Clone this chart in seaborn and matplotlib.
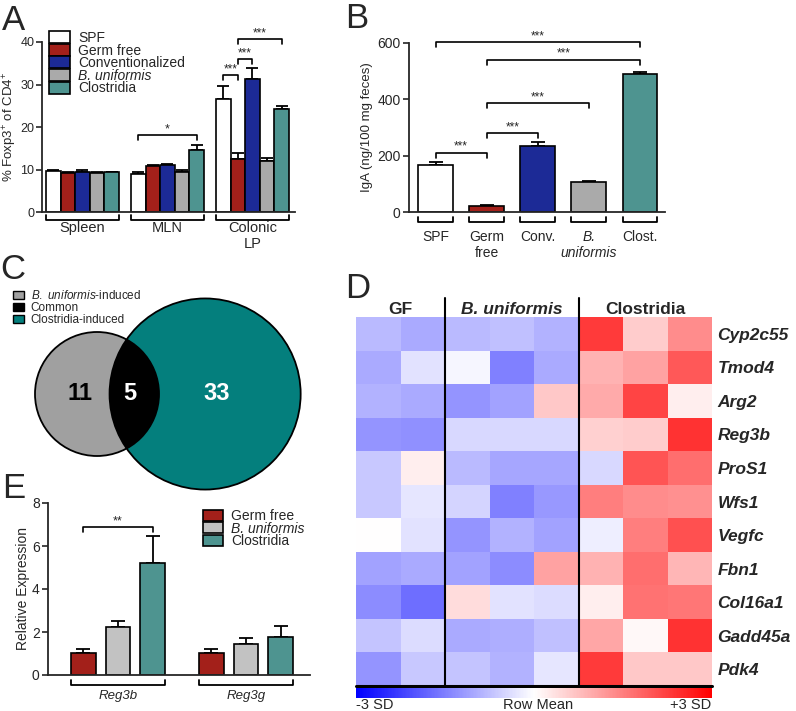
import matplotlib.pyplot as plt
import matplotlib.patches as mpatches
import numpy as np
import pandas as pd
import seaborn as sns

# ---- panel A: % Foxp3+ of CD4+ (mean and sem per tissue) ----
tissues = ["Spleen", "MLN", "Colonic\nLP"]
groups_a = ["SPF", "Germ free", "Conventionalized", "B. uniformis", "Clostridia"]
foxp3_spf = [9.7, 9.0, 26.7]
foxp3_gf = [9.1, 10.8, 12.4]
foxp3_conv = [9.5, 11.0, 31.2]
foxp3_bu = [9.1, 9.5, 12.1]
foxp3_clos = [9.3, 14.5, 24.2]
foxp3_sem_spf = [0.3, 0.3, 3.0]
foxp3_sem_gf = [0.2, 0.3, 1.6]
foxp3_sem_conv = [0.4, 0.3, 2.8]
foxp3_sem_bu = [0.3, 0.3, 0.6]
foxp3_sem_clos = [0.2, 1.2, 0.8]

# ---- panel B: fecal IgA ----
iga_groups = ["SPF", "Germ\nfree", "Conv.", "B.\nuniformis", "Clost."]
iga_mean = [168, 22, 233, 105, 490]
iga_sem = [8, 4, 17, 4, 6]

# ---- panel C: induced genes ----
venn_labels = ["$\\it{B.\\ uniformis}$-induced", "Common", "Clostridia-induced"]
venn_counts = [11, 5, 33]  # B. uniformis only, common, Clostridia only

# ---- panel D: row z-scores ----
genes = ["Cyp2c55", "Tmod4", "Arg2", "Reg3b", "ProS1", "Wfs1",
         "Vegfc", "Fbn1", "Col16a1", "Gadd45a", "Pdk4"]
samples = ["GF1", "GF2", "Bu1", "Bu2", "Bu3", "Cl1", "Cl2", "Cl3"]
row_z = [
    [-0.8, -1.0, -0.8, -0.75, -0.9, 2.3, 0.6, 1.35],
    [-1.0, -0.35, -0.1, -1.5, -1.0, 0.9, 1.1, 1.95],
    [-0.9, -1.0, -1.25, -1.1, 0.65, 1.0, 2.2, 0.2],
    [-1.25, -1.3, -0.45, -0.45, -0.45, 0.55, 0.6, 2.4],
    [-0.65, 0.2, -0.8, -1.05, -1.05, -0.45, 2.0, 1.7],
    [-0.65, -0.3, -0.5, -1.5, -1.2, 1.5, 1.35, 1.3],
    [0.0, -0.35, -1.25, -0.9, -1.1, -0.2, 1.5, 2.05],
    [-1.1, -1.0, -1.1, -1.35, 1.1, 0.9, 1.7, 0.85],
    [-1.35, -1.7, 0.4, -0.35, -0.4, 0.2, 1.65, 1.6],
    [-0.7, -0.4, -1.0, -0.95, -0.75, 1.05, 0.08, 2.4],
    [-1.25, -0.65, -0.7, -0.9, -0.3, 2.3, 0.65, 0.65],
]
heat_groups = ["GF", "B. uniformis", "Clostridia"]

# ---- panel E: relative expression ----
e_genes = ["Reg3b", "Reg3g"]
e_groups = ["Germ free", "B. uniformis", "Clostridia"]
expr_gf = [1.02, 1.02]
expr_bu = [2.22, 1.45]
expr_clos = [5.2, 1.78]
expr_sem_gf = [0.18, 0.17]
expr_sem_bu = [0.3, 0.27]
expr_sem_clos = [1.25, 0.52]

RED = "#A3201A"
BLUE = "#1C2A96"
GREY = "#AAAAAA"
TEAL = "#4E9490"
colors_a = ["white", RED, BLUE, GREY, TEAL]
colors_e = [RED, "#C2C2C2", TEAL]

sns.set_style("ticks")
plt.rcParams["font.family"] = ["Liberation Sans", "DejaVu Sans"]
plt.rcParams["mathtext.fontset"] = "custom"
plt.rcParams["mathtext.rm"] = "Liberation Sans"
plt.rcParams["mathtext.it"] = "Liberation Sans:italic"
plt.rcParams["mathtext.default"] = "regular"
plt.rcParams["axes.linewidth"] = 1.3

W, H = 796, 711
fig = plt.figure(figsize=(W / 100, H / 100), dpi=100)


def px_axes(left, top, right, bottom):
    return fig.add_axes([left / W, 1 - bottom / H, (right - left) / W, (bottom - top) / H])


def style_axes(ax, fs=10):
    sns.despine(ax=ax)
    ax.tick_params(axis="y", direction="out", length=4, width=1.2, labelsize=fs, pad=2)
    ax.set_xlabel("")


def bar_centers(ax):
    conts = [c for c in ax.containers]
    return [[b.get_x() + b.get_width() / 2 for b in c] for c in conts], conts


def add_err(ax, conts, sems, cap):
    for c, s in zip(conts, sems):
        xs = [b.get_x() + b.get_width() / 2 for b in c]
        ys = [b.get_height() for b in c]
        ax.errorbar(xs, ys, yerr=[np.zeros(len(s)), s], fmt="none", ecolor="black",
                    elinewidth=1.3, capsize=cap, capthick=1.3, zorder=1)


def sig(ax, x1, x2, y, drop, label, fs=9):
    ax.plot([x1, x1, x2, x2], [y - drop, y, y, y - drop], color="black", lw=1.2, clip_on=False)
    ax.text((x1 + x2) / 2, y, label, ha="center", va="bottom", fontsize=fs)


def under_bracket(ax, x1, x2, drop_px, tick_px=5):
    h = ax.get_position().height * H
    tr = ax.get_xaxis_transform()
    y0 = -drop_px / h
    y1 = -(drop_px - tick_px) / h
    ax.plot([x1, x1, x2, x2], [y1, y0, y0, y1], transform=tr, color="black",
            lw=1.3, clip_on=False)


def letter(x, y, s):
    fig.text(x / W, 1 - y / H, s, fontsize=25, ha="left", va="baseline")


# ================= A =================
ax_a = px_axes(42, 42, 295, 212)
df_a = pd.DataFrame({
    "tissue": tissues * 5,
    "group": np.repeat(groups_a, 3),
    "value": foxp3_spf + foxp3_gf + foxp3_conv + foxp3_bu + foxp3_clos,
})
sns.barplot(data=df_a, x="tissue", y="value", hue="group", palette=colors_a, width=0.86,
            saturation=1, edgecolor="black", linewidth=1.2, errorbar=None, legend=False,
            ax=ax_a, zorder=2)
cen_a, conts_a = bar_centers(ax_a)
add_err(ax_a, conts_a, [foxp3_sem_spf, foxp3_sem_gf, foxp3_sem_conv, foxp3_sem_bu,
                        foxp3_sem_clos], 4)
ax_a.set_ylim(0, 40)
ax_a.set_xlim(-0.476, 2.5)
ax_a.set_yticks([0, 10, 20, 30, 40])
style_axes(ax_a, fs=9)
ax_a.tick_params(axis="y", pad=1.5)
ax_a.set_ylabel("% Foxp3$^{+}$ of CD4$^{+}$", fontsize=9.5)
ax_a.yaxis.set_label_coords(-0.091, 0.5)
ax_a.tick_params(axis="x", length=0, pad=6.5, labelsize=10.5)
for t in range(3):
    under_bracket(ax_a, cen_a[0][t] - 0.086, cen_a[4][t] + 0.086, 8)
# significance brackets
sig(ax_a, cen_a[0][1], cen_a[4][1], 18.1, 1.2, "*")
sig(ax_a, cen_a[0][2], cen_a[1][2], 32.2, 1.2, "***", 8.5)
sig(ax_a, cen_a[1][2], cen_a[2][2], 36.0, 1.2, "***", 8.5)
sig(ax_a, cen_a[1][2], cen_a[4][2], 40.7, 1.2, "***", 8.5)
hand_a = [mpatches.Patch(facecolor=c, edgecolor="black", linewidth=1.2, label=g)
          for c, g in zip(colors_a, groups_a)]
leg_a = fig.legend(handles=hand_a, loc="upper left", bbox_to_anchor=(49 / W, 1 - 31 / H),
                   frameon=False, fontsize=10, handlelength=1.5, handleheight=0.95,
                   labelspacing=-0.1, handletextpad=0.6, borderpad=0, borderaxespad=0)
leg_a.get_texts()[3].set_fontstyle("italic")

# ================= B =================
ax_b = px_axes(409, 43, 665, 212)
sns.barplot(x=iga_groups, y=iga_mean, hue=iga_groups, palette=colors_a, width=0.68,
            saturation=1, edgecolor="black", linewidth=1.2, legend=False, ax=ax_b, zorder=2)
cen_b = [b.get_x() + b.get_width() / 2 for c in ax_b.containers for b in c]
bars_b = [b for c in ax_b.containers for b in c]
ax_b.errorbar(cen_b, [b.get_height() for b in bars_b], yerr=[np.zeros(5), iga_sem],
              fmt="none", ecolor="black", elinewidth=1.3, capsize=5, capthick=1.3, zorder=1)
ax_b.set_ylim(0, 600)
ax_b.set_xlim(-0.52, 4.49)
ax_b.set_yticks([0, 200, 400, 600])
style_axes(ax_b)
ax_b.set_ylabel("IgA (ng/100 mg feces)", fontsize=9.5)
ax_b.yaxis.set_label_coords(-0.14, 0.5)
ax_b.tick_params(axis="x", length=0, pad=13, labelsize=10)
ax_b.get_xticklabels()[3].set_fontstyle("italic")
for b in bars_b:
    under_bracket(ax_b, b.get_x(), b.get_x() + b.get_width(), 10)
sig(ax_b, cen_b[0], cen_b[1], 210, 18, "***", 8.5)
sig(ax_b, cen_b[1], cen_b[2], 280, 18, "***", 8.5)
sig(ax_b, cen_b[1], cen_b[3], 387, 18, "***", 8.5)
sig(ax_b, cen_b[1], cen_b[4], 540, 18, "***", 8.5)
sig(ax_b, cen_b[0], cen_b[4], 603, 18, "***", 8.5)

# ================= C =================
ax_c = px_axes(0, 280, 330, 510)
ax_c.set_xlim(0, 330)
ax_c.set_ylim(510, 280)
ax_c.axis("off")
# area-proportional circles
unit = np.pi * 62.0 ** 2 / (venn_counts[0] + venn_counts[1])
r1 = np.sqrt(unit * (venn_counts[0] + venn_counts[1]) / np.pi)
r2 = np.sqrt(unit * (venn_counts[1] + venn_counts[2]) / np.pi)


def lens_area(d):
    a1 = r1 ** 2 * np.arccos((d * d + r1 * r1 - r2 * r2) / (2 * d * r1))
    a2 = r2 ** 2 * np.arccos((d * d + r2 * r2 - r1 * r1) / (2 * d * r2))
    a3 = 0.5 * np.sqrt((-d + r1 + r2) * (d + r1 - r2) * (d - r1 + r2) * (d + r1 + r2))
    return a1 + a2 - a3


lo, hi = r2 - r1 + 1e-6, r1 + r2 - 1e-6
for _ in range(60):
    mid = (lo + hi) / 2
    if lens_area(mid) > unit * venn_counts[1]:
        lo = mid
    else:
        hi = mid
d = (lo + hi) / 2
cx1, cy = 35 + r1, 394
cx2 = cx1 + d
c_grey = mpatches.Circle((cx1, cy), r1, facecolor="#A0A0A0", edgecolor="black", lw=1.3)
c_teal = mpatches.Circle((cx2, cy), r2, facecolor="#047F7D", edgecolor="black", lw=1.3)
c_both = mpatches.Circle((cx1, cy), r1, facecolor="black", edgecolor="black", lw=1.3)
ax_c.add_patch(c_grey)
ax_c.add_patch(c_teal)
ax_c.add_patch(c_both)
c_both.set_clip_path(c_teal)
ax_c.text(80, cy, str(venn_counts[0]), ha="center", va="center", fontsize=17,
          fontweight="bold", color="black")
ax_c.text(130, cy, str(venn_counts[1]), ha="center", va="center", fontsize=17,
          fontweight="bold", color="white")
ax_c.text(217, cy, str(venn_counts[2]), ha="center", va="center", fontsize=17,
          fontweight="bold", color="white")
hand_c = [mpatches.Patch(facecolor=c, edgecolor="black", linewidth=1.0, label=l)
          for c, l in zip(["#A0A0A0", "black", "#047F7D"], venn_labels)]
fig.legend(handles=hand_c, loc="upper left", bbox_to_anchor=(13 / W, 1 - 289 / H),
           frameon=False, fontsize=8.5, handlelength=0.95, handleheight=0.65,
           labelspacing=0.0, handletextpad=0.55, borderpad=0, borderaxespad=0)

# ================= D =================
ax_d = px_axes(356, 317, 712, 686)
ax_cb = px_axes(356, 688, 712, 698)
df_d = pd.DataFrame(row_z, index=genes, columns=samples)
sns.heatmap(df_d, cmap="bwr", vmin=-3, vmax=3, ax=ax_d, cbar_ax=ax_cb,
            cbar_kws={"orientation": "horizontal"}, xticklabels=False, yticklabels=genes)
ax_cb.set_xticks([])
ax_cb.tick_params(length=0)
cbar = ax_d.collections[0].colorbar
if cbar is not None:
    cbar.outline.set_visible(False)
ax_d.yaxis.tick_right()
ax_d.tick_params(axis="y", length=0, pad=4, labelsize=12.5, rotation=0)
for t in ax_d.get_yticklabels():
    t.set_fontweight("bold")
    t.set_fontstyle("italic")
for xv in [2, 5]:
    ax_d.plot([xv, xv], [-0.57, 11], color="black", lw=1.5, clip_on=False)
ax_d.plot([0, 8], [11, 11], color="black", lw=2.2, clip_on=False)
for name, xc, sty in zip(heat_groups, [1.0, 3.5, 6.5], ["normal", "italic", "normal"]):
    ax_d.text(xc, -0.1, name, ha="center", va="baseline", fontsize=12.5,
              fontweight="bold", fontstyle=sty)
fig.text(356 / W, 1 - 705 / H, "-3 SD", ha="left", va="center", fontsize=10.5)
fig.text(538 / W, 1 - 705 / H, "Row Mean", ha="center", va="center", fontsize=10.5)
fig.text(711 / W, 1 - 705 / H, "+3 SD", ha="right", va="center", fontsize=10.5)

# ================= E =================
ax_e = px_axes(48, 503, 310, 675)
df_e = pd.DataFrame({
    "gene": e_genes * 3,
    "group": np.repeat(e_groups, 2),
    "value": expr_gf + expr_bu + expr_clos,
})
sns.barplot(data=df_e, x="gene", y="value", hue="group", palette=colors_e, width=0.81,
            gap=0.3, saturation=1, edgecolor="black", linewidth=1.2, errorbar=None,
            legend=False, ax=ax_e, zorder=2)
cen_e, conts_e = bar_centers(ax_e)
add_err(ax_e, conts_e, [expr_sem_gf, expr_sem_bu, expr_sem_clos], 5)
ax_e.set_ylim(0, 8)
ax_e.set_xlim(-0.547, 1.5)
ax_e.set_yticks([0, 2, 4, 6, 8])
style_axes(ax_e)
ax_e.set_ylabel("Relative Expression", fontsize=10)
ax_e.yaxis.set_label_coords(-0.069, 0.5)
ax_e.tick_params(axis="x", length=0, pad=11, labelsize=9.5)
for t in ax_e.get_xticklabels():
    t.set_fontstyle("italic")
for g in range(2):
    left = conts_e[0][g]
    right = conts_e[2][g]
    under_bracket(ax_e, left.get_x(), right.get_x() + right.get_width(), 10)
sig(ax_e, cen_e[0][0], cen_e[2][0], 6.88, 0.25, "**", 9)
hand_e = [mpatches.Patch(facecolor=c, edgecolor="black", linewidth=1.2, label=g)
          for c, g in zip(colors_e, e_groups)]
leg_e = fig.legend(handles=hand_e, loc="upper left", bbox_to_anchor=(203 / W, 1 - 509 / H),
                   frameon=False, fontsize=10, handlelength=1.45, handleheight=0.85,
                   labelspacing=-0.1, handletextpad=0.6, borderpad=0, borderaxespad=0)
leg_e.get_texts()[1].set_fontstyle("italic")

letter(2, 30, "A")
letter(345, 28, "B")
letter(0, 279, "C")
letter(345, 298, "D")
letter(2, 498, "E")

fig.savefig("out.png", dpi=100)
